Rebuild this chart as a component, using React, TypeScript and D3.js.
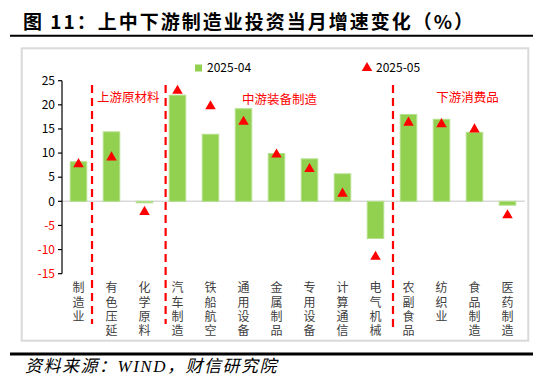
import React from "react";
import * as d3 from "d3";

const categories = ["制造业", "有色压延", "化学原料", "汽车制造", "铁船航空", "通用设备", "金属制品", "专用设备", "计算通信", "电气机械", "农副食品", "纺织业", "食品制造", "医药制造"];
const apr2025 = [8.2, 14.4, -0.1, 22.0, 13.9, 19.2, 9.9, 8.8, 5.7, -7.7, 18.0, 17.0, 14.3, -0.8];
const may2025 = [7.7, 9.1, -2.2, 22.9, 19.7, 16.5, 9.7, 6.7, 1.6, -11.5, 16.3, 16.0, 14.9, -2.9];
const yTicks = [25, 20, 15, 10, 5, 0, -5, -10, -15];
const seriesNames = ["2025-04", "2025-05"];
const sections = ["上游原材料", "中游装备制造", "下游消费品"];
const dividersAfter = ["制造业", "化学原料", "电气机械"];
const dividerFrac = [0.41, 0.64, 0.53];

const W = 550;
const H = 379;
const FONT = "'Noto Sans CJK SC', 'Noto Sans', sans-serif";

export default function App() {
  const x = d3.scaleBand<string>().domain(categories).range([62, 524]).paddingInner(0.5).paddingOuter(0.25);
  const y = d3.scaleLinear().domain([-15, 25]).range([273.7, 80.7]);
  const bw = x.bandwidth();
  const cx = (c: string) => (x(c) as number) + bw / 2;
  const step = x.step();
  const tri = d3.symbol().type(d3.symbolTriangle).size(48)();

  const divX = dividersAfter.map((c, i) => cx(c) + dividerFrac[i] * step);

  return (
    <svg width={W} height={H} style={{ position: "absolute", left: 0, top: 0, background: "#fff" }}>
      {/* title */}
      <text x={23} y={29} fontFamily={FONT} fontWeight={700} fontSize={19} fill="#000" letterSpacing={2}>
        图 11：上中下游制造业投资当月增速变化（%）
      </text>
      <line x1={10} x2={533} y1={35.7} y2={35.7} stroke="#000" strokeWidth={2} />

      {/* chart frame */}
      <rect x={21.7} y={48.3} width={506.6} height={292.4} fill="#fff" stroke="#d9d9d9" strokeWidth={2} />

      {/* zero line */}
      <line x1={62} x2={525} y1={y(0)} y2={y(0)} stroke="#d9d9d9" strokeWidth={1.5} />

      {/* bars */}
      {categories.map((c, i) => {
        const v = apr2025[i];
        const y0 = y(Math.max(0, v));
        const h = Math.abs(y(v) - y(0));
        return (
          <rect key={c} x={x(c)} y={y0} width={bw} height={Math.max(h, 1.5)} fill="#92d050" stroke="#b5e08c" strokeWidth={1} />
        );
      })}

      {/* y axis */}
      <line x1={62} x2={62} y1={y(25)} y2={y(-15)} stroke="#000" strokeWidth={1.2} />
      {yTicks.map((t) => (
        <g key={t}>
          <line x1={58} x2={62} y1={y(t)} y2={y(t)} stroke="#000" strokeWidth={1.2} />
          <text x={55} y={y(t)} dy="0.35em" textAnchor="end" fontFamily={FONT} fontSize={12} fill={t < 0 ? "#ff0000" : "#000"}>
            {t}
          </text>
        </g>
      ))}

      {/* dividers */}
      {divX.map((dx, i) => (
        <line key={i} x1={dx} x2={dx} y1={85} y2={i === 2 ? 331 : 324} stroke="#ff0000" strokeWidth={2.2} strokeDasharray="8,5" />
      ))}

      {/* section labels */}
      <text x={divX[0] + 5} y={98} dy="0.35em" fontFamily={FONT} fontSize={12.5} fill="#ff0000">
        {sections[0]}
      </text>
      <text x={cx("金属制品") + 3} y={100} dy="0.35em" textAnchor="middle" fontFamily={FONT} fontSize={12.5} fill="#ff0000">
        {sections[1]}
      </text>
      <text x={cx("食品制造") - 7} y={98} dy="0.35em" textAnchor="middle" fontFamily={FONT} fontSize={12.5} fill="#ff0000">
        {sections[2]}
      </text>

      {/* triangles */}
      {categories.map((c, i) => (
        <path key={c} d={tri as string} transform={`translate(${cx(c)},${y(may2025[i])})`} fill="#ff0000" />
      ))}

      {/* legend */}
      <rect x={195} y={64.5} width={7} height={7} fill="#92d050" />
      <text x={207} y={68} dy="0.35em" fontFamily={FONT} fontSize={12} fill="#000">
        {seriesNames[0]}
      </text>
      <path d={tri as string} transform="translate(367,68)" fill="#ff0000" />
      <text x={376} y={68} dy="0.35em" fontFamily={FONT} fontSize={12} fill="#000">
        {seriesNames[1]}
      </text>

      {/* x labels, one character per line */}
      {categories.map((c) =>
        Array.from(c).map((ch, k) => (
          <text key={c + k} x={cx(c)} y={288 + k * 14.3} dy="0.35em" textAnchor="middle" fontFamily={FONT} fontSize={12} fill="#404040">
            {ch}
          </text>
        ))
      )}

      {/* footer */}
      <line x1={10} x2={533} y1={354} y2={354} stroke="#000" strokeWidth={3} />
      <text x={25} y={372} fontFamily="'Liberation Serif', 'Noto Sans CJK SC', serif" fontStyle="italic" fontSize={17} fill="#000" letterSpacing={1.5}>
        资料来源：WIND，财信研究院
      </text>
    </svg>
  );
}
